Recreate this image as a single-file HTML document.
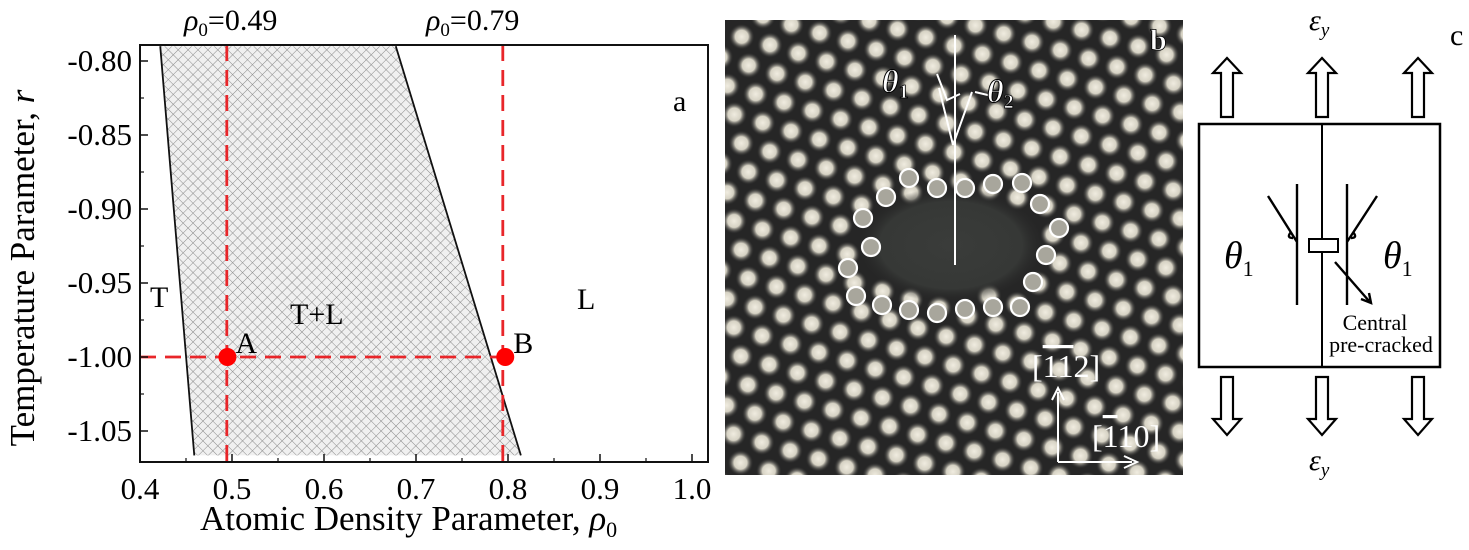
<!DOCTYPE html>
<html><head><meta charset="utf-8"><style>
html,body{margin:0;padding:0;background:#fff;}
svg{display:block;}
text{font-family:"Liberation Serif","DejaVu Serif",serif;}
</style></head><body>
<svg id="fig" width="1469" height="550" viewBox="0 0 1469 550">
<defs>
<pattern id="hatch" width="7" height="7" patternUnits="userSpaceOnUse" patternTransform="rotate(45)">
<rect width="7" height="7" fill="#f0f0f0"/>
<line x1="0" y1="0" x2="0" y2="7" stroke="#8a8a8a" stroke-width="1"/>
<line x1="0" y1="0" x2="7" y2="0" stroke="#8a8a8a" stroke-width="1"/>
</pattern>
<radialGradient id="dot"><stop offset="0" stop-color="#f0ece0"/><stop offset="0.5" stop-color="#d6d2c4"/><stop offset="1" stop-color="#262626" stop-opacity="0"/></radialGradient>
<radialGradient id="hole"><stop offset="0" stop-color="#3a3c3a"/><stop offset="0.75" stop-color="#363836"/><stop offset="1" stop-color="#262626" stop-opacity="0"/></radialGradient>
<clipPath id="imgclip"><rect x="725" y="20" width="458" height="455"/></clipPath>
<clipPath id="plotclip"><rect x="140" y="45" width="568" height="417"/></clipPath>
</defs>
<g id="panelA"></g>
<g id="panelB"></g>
<g id="panelC"></g>
</svg>
<script>
const NS="http://www.w3.org/2000/svg";
const xTicks=[0.4,0.5,0.6,0.7,0.8,0.9,1.0];
const yTicks=[-0.80,-0.85,-0.90,-0.95,-1.00,-1.05];
const leftBoundaryRho=[0.422,0.459];
const rightBoundaryRho=[0.678,0.814];
const boundaryR=[-0.79,-1.0665];
const pointRho=[0.495,0.797];
const pointR=[-1.00,-1.00];
const pointLabels=["A","B"];
const dashedRho=[0.49,0.79];

const X0=140,X1=708,Y0=45,Y1=462;
const sx=v=>140+(v-0.4)*920;
const sy=v=>61+(-0.80-v)*1480;
function mk(t,a,p,txt){const e=document.createElementNS(NS,t);for(const k in a)e.setAttribute(k,a[k]);if(t==='text')e.setAttribute('font-family','Liberation Serif, serif');if(txt!==undefined)e.textContent=txt;(p||document.getElementById('fig')).appendChild(e);return e;}
const A=document.getElementById('panelA');
const reg=mk('polygon',{points:`${sx(leftBoundaryRho[0])},${sy(boundaryR[0])} ${sx(rightBoundaryRho[0])},${sy(boundaryR[0])} ${sx(rightBoundaryRho[1])},${sy(boundaryR[1])} ${sx(leftBoundaryRho[1])},${sy(boundaryR[1])}`,fill:'url(#hatch)','clip-path':'url(#plotclip)'},A);


const lb=mk('line',{x1:sx(leftBoundaryRho[0]),y1:sy(boundaryR[0]),x2:sx(leftBoundaryRho[1]),y2:sy(boundaryR[1]),stroke:'#111','stroke-width':1.8,'clip-path':'url(#plotclip)'},A);


const rb=mk('line',{x1:sx(rightBoundaryRho[0]),y1:sy(boundaryR[0]),x2:sx(rightBoundaryRho[1]),y2:sy(boundaryR[1]),stroke:'#111','stroke-width':1.8,'clip-path':'url(#plotclip)'},A);


dashedRho.forEach((d,i)=>{const l=mk('line',{x1:sx(d)+4,y1:Y0,x2:sx(d)+4,y2:Y1,stroke:'#e8262a','stroke-width':2.8,'stroke-dasharray':'16,9'},A);

});
const hl=mk('line',{x1:X0,y1:sy(-1.0),x2:sx(pointRho[1]),y2:sy(-1.0),stroke:'#e8262a','stroke-width':2.8,'stroke-dasharray':'16,9'},A);


pointRho.forEach((p,i)=>{const c=mk('circle',{cx:sx(p),cy:sy(pointR[i]),r:9,fill:'#f00'},A);


const t=mk('text',{x:sx(p)+8,y:sy(pointR[i])-4,'font-size':30},A,pointLabels[i]);

});
const fr=mk('rect',{x:X0,y:Y0,width:X1-X0,height:Y1-Y0,fill:'none',stroke:'#111','stroke-width':2},A);


xTicks.forEach(v=>{mk('line',{x1:sx(v),y1:Y1,x2:sx(v),y2:Y1-8,stroke:'#111','stroke-width':1.5},A);
const t=mk('text',{x:sx(v),y:Y1+37,'font-size':31,'text-anchor':'middle'},A,v.toFixed(1));

});
for(let v=0.45;v<1.0;v+=0.1)mk('line',{x1:sx(v),y1:Y1,x2:sx(v),y2:Y1-4,stroke:'#111','stroke-width':1.2},A);
yTicks.forEach(v=>{mk('line',{x1:X0,y1:sy(v),x2:X0+8,y2:sy(v),stroke:'#111','stroke-width':1.5},A);
const t=mk('text',{x:X0-8,y:sy(v)+10,'font-size':31,'text-anchor':'end'},A,v.toFixed(2));

});
for(let v=-0.825;v>-1.07;v-=0.05)mk('line',{x1:X0,y1:sy(v),x2:X0+4,y2:sy(v),stroke:'#111','stroke-width':1.2},A);
function lab(x,y,s,txt,name,extra){const t=mk('text',Object.assign({x:x,y:y,'font-size':s},extra||{}),A);t.innerHTML=txt;return t;}
lab(150,307,30,'T','solid-region-label');
lab(290,324,30,'T+L','two-phase-label');
lab(577,309,30,'L','liquid-region-label');
lab(673,111,30,'a','panel-a-label');
lab(184,30,30,'<tspan font-style="italic">ρ</tspan><tspan font-size="19" dy="6">0</tspan><tspan dy="-6">=0.49</tspan>','rho-049-label');
lab(426,30,30,'<tspan font-style="italic">ρ</tspan><tspan font-size="19" dy="6">0</tspan><tspan dy="-6">=0.79</tspan>','rho-079-label');
lab(200,530,35,'Atomic Density Parameter, <tspan font-style="italic">ρ</tspan><tspan font-size="22" dy="7">0</tspan>','x-axis-title');
lab(0,0,35,'Temperature Parameter, <tspan font-style="italic">r</tspan>','y-axis-title',{transform:'translate(34,268) rotate(-90)','text-anchor':'middle'});

const B=document.getElementById('panelB');
const g=mk('g',{'clip-path':'url(#imgclip)'},B);
const bg=mk('rect',{x:725,y:20,width:458,height:455,fill:'#262626'},g);


const a1=[28.3,8.3],a2=[7.0,28.7],o=[770,45];
const holeC=[951,245];
for(let i=-25;i<25;i++)for(let j=-10;j<25;j++){const x=o[0]+i*a1[0]+j*a2[0],y=o[1]+i*a1[1]+j*a2[1];
if(x<710||x>1200||y<5||y>490)continue;
const dx=(x-holeC[0])/92,dy=(y-holeC[1])/55;if(dx*dx+dy*dy<1)continue;
mk('circle',{cx:x,cy:y,r:13,fill:'url(#dot)'},g);}
mk('ellipse',{cx:holeC[0],cy:holeC[1],rx:95,ry:58,fill:'url(#hole)'},g);
const ring=[[909,178],[937,188],[965,188],[993,184],[1022,183],[886,197],[1040,204],[863,218],[1059,228],[871,247],[1046,255],[848,268],[1033,282],[856,296],[882,305],[909,310],[937,313],[965,309],[993,307],[1020,307]];
ring.forEach(p=>{const c=mk('circle',{cx:p[0],cy:p[1],r:9,fill:'#a8a69c',stroke:'#fff','stroke-width':2.2},g);

});
const wl='stroke:#fff;stroke-width:2;fill:none';
mk('path',{d:'M955,35 L955,265 M953,145 L939,88 M953,145 L972,92 M937,74 L947,100 L960,94 M975,92 L992,96',style:wl},g);
mk('path',{d:'M1058,462 L1058,392 M1052,400 L1058,388 L1064,400 M1058,462 L1132,462 M1124,456 L1137,462 L1124,468',style:wl},g);
function blab(x,y,s,html,name){const t=mk('text',{x:x,y:y,'font-size':s,fill:'#fff'},g);t.innerHTML=html;}
blab(882,92,32,'<tspan font-style="italic" font-weight="bold" stroke="#000" stroke-width="1">θ</tspan><tspan font-size="20" dy="6" font-weight="bold" stroke="#000" stroke-width="0.8">1</tspan>','theta1-label');
blab(987,102,32,'<tspan font-style="italic" font-weight="bold" stroke="#000" stroke-width="1">θ</tspan><tspan font-size="20" dy="6" font-weight="bold" stroke="#000" stroke-width="0.8">2</tspan>','theta2-label');
blab(1150,50,30,'<tspan font-weight="bold" stroke="#000" stroke-width="0.8">b</tspan>','panel-b-label');
blab(1032,377,32,'[<tspan text-decoration="overline">1</tspan><tspan text-decoration="overline">1</tspan>2]','direction-112-label');
blab(1092,447,32,'[<tspan text-decoration="overline">1</tspan>10]','direction-110-label');

const C=document.getElementById('panelC');
const box=mk('rect',{x:1199,y:124,width:241,height:243,fill:'none',stroke:'#000','stroke-width':2.5},C);


mk('line',{x1:1322,y1:124,x2:1322,y2:367,stroke:'#000','stroke-width':2},C);
const arrowsX=[1227,1322,1418];
arrowsX.forEach(x=>{
const up=mk('path',{d:`M${x-6},117 L${x-6},73 L${x-14},73 L${x},58 L${x+14},73 L${x+6},73 L${x+6},117 Z`,fill:'#fff',stroke:'#000','stroke-width':2.2},C);


const dn=mk('path',{d:`M${x-6},377 L${x-6},419 L${x-14},419 L${x},435 L${x+14},419 L${x+6},419 L${x+6},377 Z`,fill:'#fff',stroke:'#000','stroke-width':2.2},C);

});
mk('path',{d:'M1297,184 L1297,305 M1347,184 L1347,305 M1268,196 L1297,242 M1377,196 L1347,242 M1291,232 Q1286,238 1293,238 M1353,232 Q1358,238 1351,238 M1335,262 L1369,301 M1361,299 L1371,303 L1369,293',stroke:'#000','stroke-width':2.4,fill:'none'},C);
const cr=mk('rect',{x:1309,y:239,width:29,height:13,fill:'#fff',stroke:'#000','stroke-width':2},C);


function clab(x,y,s,html,name,anchor){const t=mk('text',{x:x,y:y,'font-size':s,'text-anchor':anchor||'start'},C);t.innerHTML=html;}
clab(1224,268,38,'<tspan font-style="italic">θ</tspan><tspan font-size="22" dy="8">1</tspan>','theta1-left-label');
clab(1383,268,38,'<tspan font-style="italic">θ</tspan><tspan font-size="22" dy="8">1</tspan>','theta1-right-label');
clab(1375,330,22,'Central','central-label','middle');
clab(1381,352,22,'pre-cracked','pre-cracked-label','middle');
clab(1309,30,30,'<tspan font-style="italic">ε</tspan><tspan font-size="19" dy="6" font-style="italic">y</tspan>','strain-top-label');
clab(1309,470,30,'<tspan font-style="italic">ε</tspan><tspan font-size="19" dy="6" font-style="italic">y</tspan>','strain-bottom-label');
clab(1450,45,30,'c','panel-c-label');
</script>
</body></html>
